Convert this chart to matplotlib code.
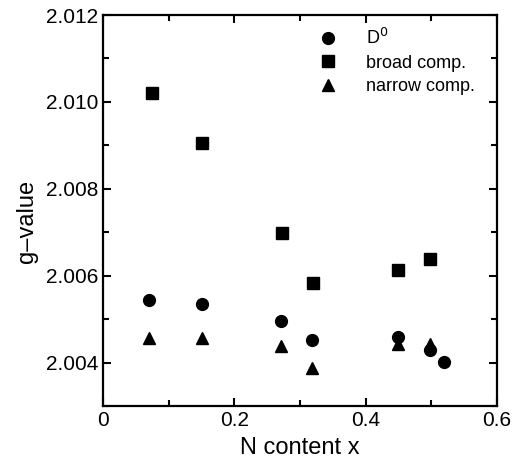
import matplotlib
matplotlib.use("Agg")
import matplotlib.pyplot as plt
from matplotlib.ticker import MultipleLocator

plt.rcParams['font.family'] = ['Liberation Sans', 'DejaVu Sans']

# Data
x_d0 = [0.070, 0.150, 0.271, 0.319, 0.449, 0.498, 0.519]
g_d0 = [2.00545, 2.00534, 2.00495, 2.00453, 2.00459, 2.00430, 2.00401]

x_broad = [0.074, 0.151, 0.272, 0.320, 0.449, 0.498]
g_broad = [2.01020, 2.00906, 2.00698, 2.00582, 2.00613, 2.00639]

x_narrow = [0.070, 0.150, 0.271, 0.319, 0.449, 0.498]
g_narrow = [2.00457, 2.00457, 2.00439, 2.00388, 2.00442, 2.00443]

labels = ["D$^0$", "broad comp.", "narrow comp."]
xticks = [0, 0.2, 0.4, 0.6]
xticklabels = ["0", "0.2", "0.4", "0.6"]
yticks = [2.004, 2.006, 2.008, 2.010, 2.012]
yticklabels = ["2.004", "2.006", "2.008", "2.010", "2.012"]

fig = plt.figure(figsize=(5.14, 4.69), dpi=100)
ax = fig.add_axes([0.2004, 0.1343, 0.7666, 0.8337])

ax.plot(x_d0, g_d0, linestyle='none', marker='o', color='black', markersize=8.5, label=labels[0])
ax.plot(x_broad, g_broad, linestyle='none', marker='s', color='black', markersize=9, label=labels[1])
ax.plot(x_narrow, g_narrow, linestyle='none', marker='^', color='black', markersize=8, label=labels[2])

ax.set_xlim(0, 0.6)
ax.set_ylim(2.003, 2.012)
ax.set_xticks(xticks)
ax.set_xticklabels(xticklabels)
ax.set_yticks(yticks)
ax.set_yticklabels(yticklabels)
ax.xaxis.set_minor_locator(MultipleLocator(0.1))
ax.yaxis.set_minor_locator(MultipleLocator(0.001))

ax.tick_params(which='both', direction='in', top=True, right=True, width=1.5)
ax.tick_params(which='major', length=6, labelsize=15)
ax.tick_params(which='minor', length=4)
for s in ax.spines.values():
    s.set_linewidth(1.6)

ax.set_xlabel("N content x", fontsize=17, labelpad=5)
ax.set_ylabel("g\u2013value", fontsize=17)
ax.yaxis.set_label_coords(-0.165, 0.473)

leg = ax.legend(loc='upper left', bbox_to_anchor=(0.53, 0.985), frameon=False,
                fontsize=13, handlelength=1.0, handletextpad=1.6,
                labelspacing=0.35, borderaxespad=0)

fig.savefig("out.png", dpi=100)
